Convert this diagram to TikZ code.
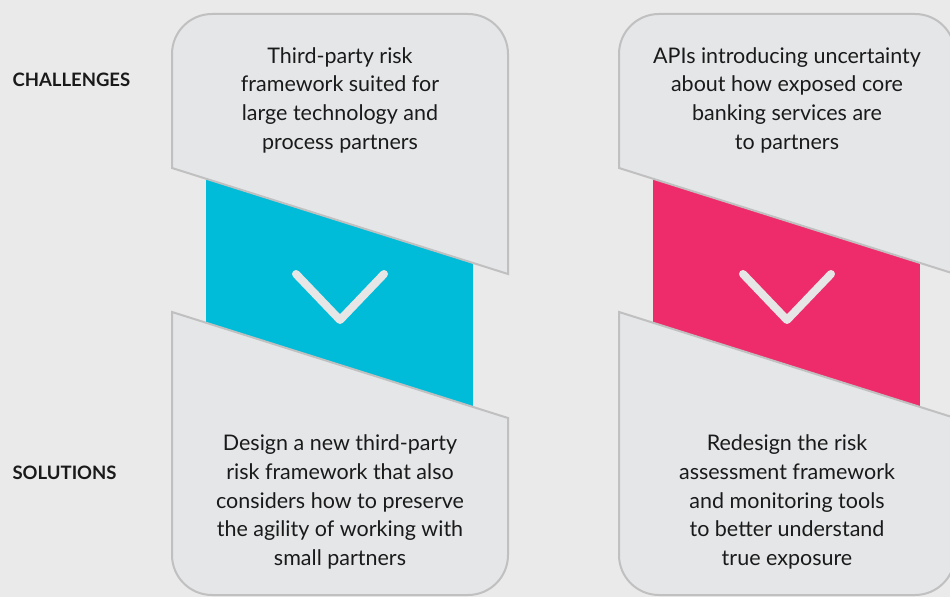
\documentclass[tikz,border=0pt]{standalone}
\usepackage{fontspec}
\setmainfont{Lato}
\definecolor{bg}{HTML}{EAEAEA}
\definecolor{boxfill}{HTML}{E5E6E8}
\definecolor{boxline}{HTML}{C0C0C0}
\definecolor{teal}{HTML}{00BCD9}
\definecolor{pinkc}{HTML}{EE2C6B}
\definecolor{chev}{HTML}{E6E6E6}
\definecolor{txt}{HTML}{1A1A1A}
\tikzset{
  panel/.style={fill=boxfill, draw=boxline, line width=2pt, line join=miter},
  chevron/.style={draw=chev, line width=8pt, line cap=round, line join=round},
  bodytext/.style={align=center, text=txt, font=\fontsize{21.5}{28.7}\selectfont},
  rowlabel/.style={anchor=west, text=txt, font=\bfseries\fontsize{18.5}{20}\selectfont},
}
\begin{document}
\begin{tikzpicture}[x=1pt,y=1pt]
\useasboundingbox (0,0) rectangle (950,597);
\fill[bg] (0,0) rectangle (950,597);
\begin{scope}
\clip (0,0) rectangle (950,597);
\foreach \dx/\col in {0/teal, 447/pinkc}{
  \begin{scope}[xshift=\dx pt]
    \fill[\col] (206,187) rectangle (473,427);
    \draw[chevron] (296,323) -- (340,277) -- (384,323);
    \draw[panel] (172,429) -- (172,543) arc(180:90:40) -- (468,583) arc(90:0:40) -- (508,323) -- cycle;
    \draw[panel] (172,285) -- (172,42) arc(180:270:40) -- (468,2) arc(270:360:40) -- (508,179) -- cycle;
  \end{scope}
}
\end{scope}
\node[rowlabel] (chal) at (9,517) {CHALLENGES};
\node[rowlabel] (sol) at (9,124) {SOLUTIONS};
\node[bodytext] (c1) at (340,497) {Third-party risk\\framework suited for\\large technology and\\process partners};
\node[bodytext] (s1) at (340,95) {Design a new third-party\\risk framework that also\\considers how to preserve\\the agility of working with\\small partners};
\node[bodytext] (c2) at (787,497) {APIs introducing uncertainty\\about how exposed core\\banking services are\\to partners};
\node[bodytext] (s2) at (787,95) {Redesign the risk\\assessment framework\\and monitoring tools\\to better understand\\true exposure};
\end{tikzpicture}
\end{document}
